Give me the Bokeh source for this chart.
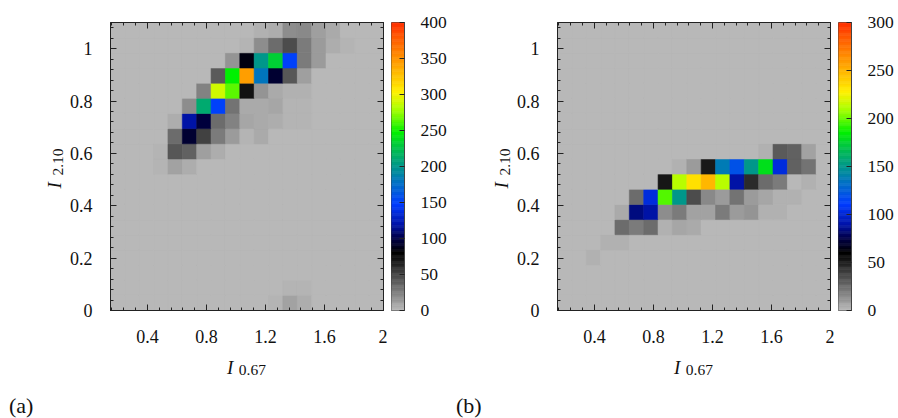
import numpy as np
from bokeh.plotting import figure
from bokeh.models import (ColumnDataSource, LinearColorMapper, LinearAxis, FixedTicker,
                          CustomJSTickFormatter, CustomLabelingPolicy, Label, Range1d)
from bokeh.transform import transform
from bokeh.layouts import row
from bokeh.embed import file_html
from bokeh.resources import INLINE

# ---------------- data ----------------
x_limits = (0.15, 2.0)          # I_0.67 axis
y_limits = (0.0, 1.1)           # I_2.10 axis
n_cols = 19                     # bins along I_0.67
n_rows = 19                     # bins along I_2.10

x_major_ticks = [0.4, 0.8, 1.2, 1.6, 2.0]
y_major_ticks = [0, 0.2, 0.4, 0.6, 0.8, 1.0]
cbar_max_a = 400
cbar_max_b = 300
cbar_ticks_a = [0, 50, 100, 150, 200, 250, 300, 350, 400]
cbar_ticks_b = [0, 50, 100, 150, 200, 250, 300]

# counts per bin; first list = top row (highest I_2.10), last = bottom row
counts_a = [
    [0, 0, 0, 0, 0, 0, 0, 0, 0, 0, 4, 6, 20, 21, 12, 7, 0, 0, 0],
    [0, 0, 0, 0, 0, 0, 0, 0, 0, 3, 19, 34, 48, 27, 13, 5, 3, 0, 0],
    [0, 0, 0, 0, 0, 0, 0, 0, 17, 85, 200, 232, 150, 28, 13, 0, 0, 0, 0],
    [0, 0, 0, 0, 0, 0, 0, 41, 248, 345, 180, 95, 43, 11, 0, 0, 0, 0, 0],
    [0, 0, 0, 0, 0, 0, 24, 290, 265, 72, 17, 7, 4, 4, 0, 0, 0, 0, 0],
    [0, 0, 0, 0, 0, 20, 212, 150, 31, 7, 7, 8, 3, 3, 0, 0, 0, 0, 0],
    [0, 0, 0, 0, 6, 120, 97, 34, 24, 8, 7, 5, 3, 3, 0, 0, 0, 0, 0],
    [0, 0, 0, 0, 34, 95, 52, 27, 13, 3, 7, 0, 0, 0, 0, 0, 0, 0, 0],
    [0, 0, 0, 3, 43, 38, 11, 5, 0, 0, 0, 0, 0, 0, 0, 0, 0, 0, 0],
    [0, 0, 0, 3, 10, 6, 0, 0, 0, 0, 0, 0, 0, 0, 0, 0, 0, 0, 0],
    [0, 0, 0, 0, 0, 0, 0, 0, 0, 0, 0, 0, 0, 0, 0, 0, 0, 0, 0],
    [0, 0, 0, 0, 0, 0, 0, 0, 0, 0, 0, 0, 0, 0, 0, 0, 0, 0, 0],
    [0, 0, 0, 0, 0, 0, 0, 0, 0, 0, 0, 0, 0, 0, 0, 0, 0, 0, 0],
    [0, 0, 0, 0, 0, 0, 0, 0, 0, 0, 0, 0, 0, 0, 0, 0, 0, 0, 0],
    [0, 0, 0, 0, 0, 0, 0, 0, 0, 0, 0, 0, 0, 0, 0, 0, 0, 0, 0],
    [0, 0, 0, 0, 0, 0, 0, 0, 0, 0, 0, 0, 0, 0, 0, 0, 0, 0, 0],
    [0, 0, 0, 0, 0, 0, 0, 0, 0, 0, 0, 0, 0, 0, 0, 0, 0, 0, 0],
    [0, 0, 0, 0, 0, 0, 0, 0, 0, 0, 0, 0, 3, 3, 0, 0, 0, 0, 0],
    [0, 0, 0, 0, 0, 0, 0, 0, 0, 0, 0, 3, 10, 6, 0, 0, 0, 0, 0],
]

counts_b = [
    [0, 0, 0, 0, 0, 0, 0, 0, 0, 0, 0, 0, 0, 0, 0, 0, 0, 0, 0],
    [0, 0, 0, 0, 0, 0, 0, 0, 0, 0, 0, 0, 0, 0, 0, 0, 0, 0, 0],
    [0, 0, 0, 0, 0, 0, 0, 0, 0, 0, 0, 0, 0, 0, 0, 0, 0, 0, 0],
    [0, 0, 0, 0, 0, 0, 0, 0, 0, 0, 0, 0, 0, 0, 0, 0, 0, 0, 0],
    [0, 0, 0, 0, 0, 0, 0, 0, 0, 0, 0, 0, 0, 0, 0, 0, 0, 0, 0],
    [0, 0, 0, 0, 0, 0, 0, 0, 0, 0, 0, 0, 0, 0, 0, 0, 0, 0, 0],
    [0, 0, 0, 0, 0, 0, 0, 0, 0, 0, 0, 0, 0, 0, 0, 0, 0, 0, 0],
    [0, 0, 0, 0, 0, 0, 0, 0, 0, 0, 0, 0, 0, 0, 0, 0, 0, 0, 0],
    [0, 0, 0, 0, 0, 0, 0, 0, 0, 0, 0, 0, 0, 0, 3, 31, 29, 8, 0],
    [0, 0, 0, 0, 0, 0, 0, 0, 3, 10, 52, 138, 120, 150, 180, 102, 29, 23, 0],
    [0, 0, 0, 0, 0, 0, 0, 53, 213, 234, 249, 213, 90, 46, 25, 20, 0, 3, 0],
    [0, 0, 0, 0, 0, 25, 102, 198, 150, 36, 16, 10, 23, 10, 7, 3, 3, 0, 0],
    [0, 0, 0, 0, 5, 84, 90, 15, 21, 8, 8, 20, 10, 12, 3, 3, 0, 0, 0],
    [0, 0, 0, 0, 25, 20, 25, 3, 7, 5, 0, 0, 0, 0, 0, 0, 0, 0, 0],
    [0, 0, 0, 3, 3, 0, 0, 0, 0, 0, 0, 0, 0, 0, 0, 0, 0, 0, 0],
    [0, 0, 3, 0, 0, 0, 0, 0, 0, 0, 0, 0, 0, 0, 0, 0, 0, 0, 0],
    [0, 0, 0, 0, 0, 0, 0, 0, 0, 0, 0, 0, 0, 0, 0, 0, 0, 0, 0],
    [0, 0, 0, 0, 0, 0, 0, 0, 0, 0, 0, 0, 0, 0, 0, 0, 0, 0, 0],
    [0, 0, 0, 0, 0, 0, 0, 0, 0, 0, 0, 0, 0, 0, 0, 0, 0, 0, 0],
]

# ---------------- style ----------------
FONT = "Liberation Serif"
BG = "#b8b8b8"
TXT = "#111111"
FW, FH = 273, 288
TOP, BOTTOM = 22, 108
palette_stops = [
    (0.00, (184, 184, 184)),
    (0.20, (0, 0, 0)),
    (0.25, (0, 0, 70)),
    (0.30, (0, 20, 170)),
    (0.37, (0, 60, 255)),
    (0.44, (0, 110, 200)),
    (0.50, (0, 150, 140)),
    (0.56, (0, 190, 80)),
    (0.62, (0, 240, 0)),
    (0.70, (170, 255, 0)),
    (0.76, (255, 240, 0)),
    (0.86, (255, 160, 0)),
    (1.00, (255, 50, 0)),
]


def build_palette(n=256):
    fr = np.linspace(0, 1, n)
    pos = [s[0] for s in palette_stops]
    cols = np.array([s[1] for s in palette_stops], dtype=float)
    chans = [np.interp(fr, pos, cols[:, i]) for i in range(3)]
    return ["#%02x%02x%02x" % (int(round(r)), int(round(g)), int(round(b)))
            for r, g, b in zip(*chans)]


PALETTE = build_palette()
fmt_code = "return Number.isInteger(tick) ? tick.toFixed(0) : tick.toFixed(1);"
x_minor = list(np.round(np.arange(0.16, 2.0001, 0.08), 3))
y_minor = list(np.round(np.arange(0.0, 1.1001, 0.04), 3))


def style_axis(ax, ticks, minor, labels=True, standoff=16):
    ax.ticker = FixedTicker(ticks=ticks, minor_ticks=minor)
    ax.axis_line_color = "#222222"
    ax.major_tick_line_color = "#222222"
    ax.minor_tick_line_color = "#222222"
    ax.major_tick_in = 6
    ax.major_tick_out = 0
    ax.minor_tick_in = 3
    ax.minor_tick_out = 0
    if labels:
        ax.formatter = CustomJSTickFormatter(code=fmt_code)
        ax.major_label_text_font = FONT
        ax.major_label_text_font_size = "18px"
        ax.major_label_text_color = TXT
        ax.major_label_standoff = standoff
    else:
        ax.major_label_policy = CustomLabelingPolicy(code="return [];")
        ax.major_label_text_font_size = "1px"
        ax.major_label_standoff = 0


def add_label(p, side, fx, fy, text, size, style="normal", angle=0.0):
    # fx, fy: pixel offsets from the frame's lower-left corner
    x = x_limits[0] + fx / FW * (x_limits[1] - x_limits[0])
    y = y_limits[0] + fy / FH * (y_limits[1] - y_limits[0])
    p.add_layout(Label(x=x, y=y, text=text, text_font=FONT, text_font_size=size,
                       text_font_style=style, text_color=TXT, angle=angle,
                       text_align="left", text_baseline="alphabetic"), side)


def heatmap(counts, vmax, mapper, panel, left_border):
    p = figure(frame_width=FW, frame_height=FH,
               x_range=Range1d(*x_limits), y_range=Range1d(*y_limits),
               output_backend="svg", toolbar_location=None,
               min_border_left=left_border, min_border_right=4,
               min_border_top=TOP, min_border_bottom=BOTTOM,
               background_fill_color=BG, border_fill_color="white",
               outline_line_color="#222222")
    p.grid.visible = False
    grid = np.array(counts[::-1], dtype=float)  # row 0 = bottom
    xe = np.linspace(x_limits[0], x_limits[1], n_cols + 1)
    ye = np.linspace(y_limits[0], y_limits[1], n_rows + 1)
    jj, kk = np.meshgrid(np.arange(n_rows), np.arange(n_cols), indexing="ij")
    jj, kk = jj.ravel(), kk.ravel()
    src = ColumnDataSource(dict(left=xe[kk], right=xe[kk + 1],
                                bottom=ye[jj], top=ye[jj + 1],
                                value=grid[jj, kk]))
    p.quad(left="left", right="right", bottom="bottom", top="top", source=src,
           fill_color=transform("value", mapper),
           line_color=transform("value", mapper), line_width=0.6)
    style_axis(p.xaxis[0], x_major_ticks, x_minor, standoff=19)
    style_axis(p.yaxis[0], y_major_ticks, y_minor, standoff=18)
    top_ax = LinearAxis()
    style_axis(top_ax, x_major_ticks, x_minor, labels=False)
    p.add_layout(top_ax, "above")
    right_ax = LinearAxis()
    style_axis(right_ax, y_major_ticks, y_minor, labels=False)
    p.add_layout(right_ax, "right")
    # axis titles I_0.67 and I_2.10, panel tag
    add_label(p, "below", 116.5, -57, "I", "19px", "italic")
    add_label(p, "below", 128.3, -59.5, "0.67", "15.5px")
    add_label(p, "left", -56, 122, "I", "19px", "italic", angle=np.pi / 2)
    add_label(p, "left", -52.5, 135, "2.10", "15.5px", angle=np.pi / 2)
    add_label(p, "below", -101.5, -95, panel, "22px")
    return p


def colorbar(vmax, ticks, mapper, right_border):
    c = figure(frame_width=13, frame_height=FH,
               x_range=Range1d(0, 1), y_range=Range1d(0, vmax),
               x_axis_location=None, y_axis_location="right",
               output_backend="svg", toolbar_location=None,
               min_border_left=4, min_border_right=right_border,
               min_border_top=TOP, min_border_bottom=BOTTOM,
               border_fill_color="white", outline_line_color="#444444")
    c.grid.visible = False
    levels = np.linspace(0, vmax, 241)
    src = ColumnDataSource(dict(bottom=levels[:-1], top=levels[1:],
                                value=(levels[:-1] + levels[1:]) / 2))
    c.quad(left=0, right=1, bottom="bottom", top="top", source=src,
           fill_color=transform("value", mapper),
           line_color=transform("value", mapper), line_width=0.6)
    ax = c.yaxis[0]
    ax.ticker = FixedTicker(ticks=ticks, minor_ticks=[])
    ax.axis_line_color = "#444444"
    ax.major_tick_line_color = "#222222"
    ax.major_tick_in = 5
    ax.major_tick_out = 0
    ax.minor_tick_line_color = None
    ax.major_label_text_font = FONT
    ax.major_label_text_font_size = "17.5px"
    ax.major_label_text_color = TXT
    ax.major_label_standoff = 16
    return c


mapper_a = LinearColorMapper(palette=PALETTE, low=0, high=cbar_max_a)
mapper_b = LinearColorMapper(palette=PALETTE, low=0, high=cbar_max_b)

p1 = heatmap(counts_a, cbar_max_a, mapper_a, "(a)", 110)
c1 = colorbar(cbar_max_a, cbar_ticks_a, mapper_a, 51)
p2 = heatmap(counts_b, cbar_max_b, mapper_b, "(b)", 102)
c2 = colorbar(cbar_max_b, cbar_ticks_b, mapper_b, 45)

layout = row(p1, c1, p2, c2)
open("out.html", "w").write(file_html(layout, INLINE))
